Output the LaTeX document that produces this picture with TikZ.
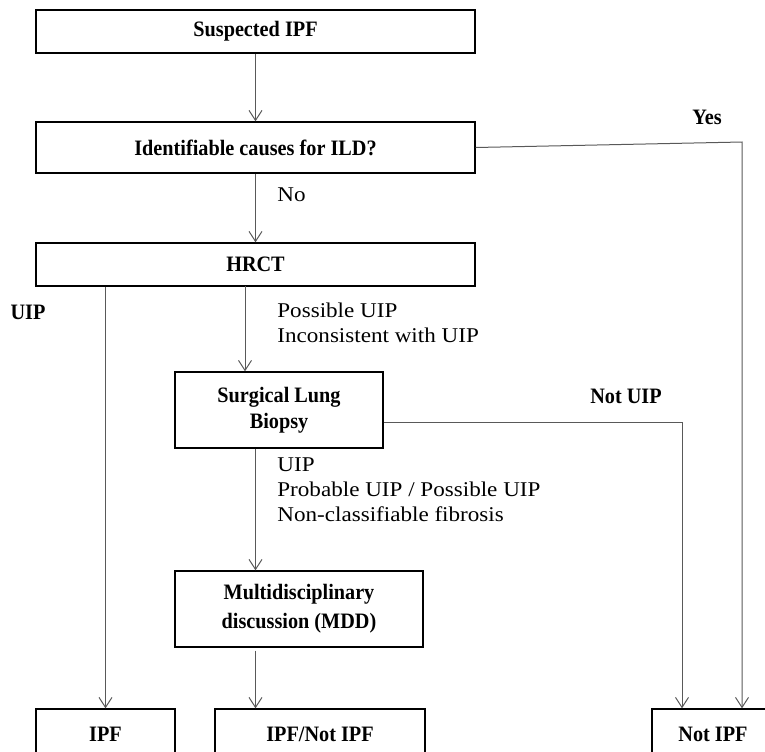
\documentclass[tikz,border=0pt]{standalone}
\usepackage{fontspec}
\setmainfont{Liberation Serif}
\newfontfamily\boxfont[FakeStretch=0.92]{Liberation Serif}
\newfontfamily\branchfont[FakeStretch=1.1]{Liberation Serif}
\usetikzlibrary{shapes,positioning,arrows,arrows.meta,calc}

\tikzset{
	box/.style={draw=black, line width=0.7pt, rectangle, font=\boxfont\bfseries\fontsize{11}{13}\selectfont, align=center, inner sep=0pt},
	flow/.style={draw=black!65, line width=0.5pt, -{Straight Barb[length=5pt,width=6.5pt]}},
	branch/.style={align=left, anchor=west, inner sep=0pt, font=\branchfont\fontsize{10.5}{12.5}\selectfont},
	answer/.style={font=\boxfont\bfseries\fontsize{11}{13}\selectfont, inner sep=0pt},
}

\begin{document}
\begin{tikzpicture}[x=0.5pt,y=-0.5pt]
	\useasboundingbox (0,0) rectangle (765,751);
	\node[box, minimum width=219.5pt, minimum height=21.5pt] (suspected) at (255.5,31.5) {Suspected IPF};
	\node[box, minimum width=219.5pt, minimum height=25.5pt] (ild) at (255.5,147.5) {Identifiable causes for ILD?};
	\node[box, minimum width=219.5pt, minimum height=21.5pt] (hrct) at (255.5,264.5) {HRCT};
	\node[box, minimum width=104pt, minimum height=38pt] (slb) at (279,410) {Surgical Lung\\Biopsy};
	\node[box, minimum width=124pt, minimum height=38pt, font=\boxfont\bfseries\fontsize{11}{14.5}\selectfont] (mdd) at (299,609) {Multidisciplinary\\discussion (MDD)};
	\node[box, minimum width=69.5pt, minimum height=25.5pt] (ipf) at (105.5,734.5) {IPF};
	\node[box, minimum width=105pt, minimum height=25.5pt] (ipfnot) at (320,734.5) {IPF/Not IPF};
	\node[box, minimum width=61pt, minimum height=25.5pt] (notipf) at (713,734.5) {Not IPF};

	\node[branch] (no) at (277,195) {No};
	\node[answer] (yes) at (707,117) {Yes};
	\node[answer] (uip) at (28,312) {UIP};
	\node[branch] (possible) at (277,322.5) {Possible UIP\\Inconsistent with UIP};
	\node[answer] (notuip) at (626,396) {Not UIP};
	\node[branch] (biopsyres) at (277,490) {UIP\\Probable UIP / Possible UIP\\Non-classifiable fibrosis};

	\coordinate (yescorner) at (742,142);
	\coordinate (notcorner) at (682,422);
	\coordinate (hcut) at (245,286);

	\draw[flow] (suspected) -- (ild);
	\draw[flow] (ild) -- (hrct);
	\draw[flow] (ild.east) -- (yescorner) -- (notipf.north -| yescorner);
	\draw[flow] (hrct.south -| ipf) -- (ipf.north);
	\draw[flow] (hcut) -- (slb.north -| hcut);
	\draw[flow] (slb.east |- notcorner) -- (notcorner) -- (notipf.north -| notcorner);
	\draw[flow] (slb.south -| suspected) -- (mdd.north -| suspected);
	\draw[flow, shorten <=1.5pt] (mdd.south -| suspected) -- (ipfnot.north -| suspected);
\end{tikzpicture}
\end{document}
